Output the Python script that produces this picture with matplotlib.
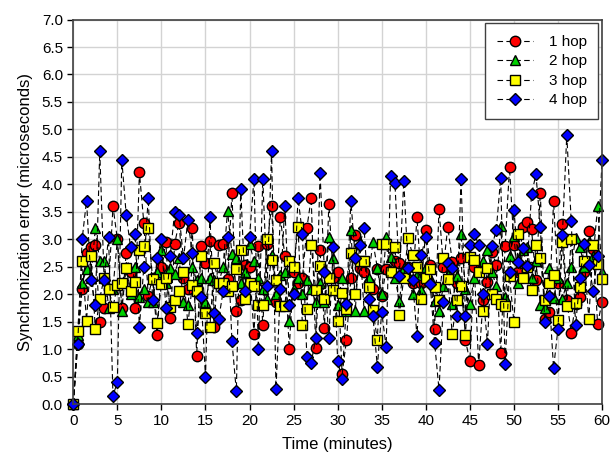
import numpy as np
import matplotlib
matplotlib.use("Agg")
import matplotlib.pyplot as plt

plt.rcParams['font.family'] = ['Liberation Sans', 'DejaVu Sans']

# time axis: one sample every half minute
t = np.arange(0, 60.5, 0.5)

# synchronization error (microseconds)
hop1 = [0, 1.1, 2.1, 2.75, 2.85, 2.9, 1.5, 1.75, 2.1, 3.6,
        3.0, 1.75, 2.75, 2.4, 1.75, 4.22, 3.3, 1.97, 2.3, 1.26,
        2.5, 2.95, 1.56, 2.92, 3.3, 2.3, 2.1, 3.2, 0.87, 2.87,
        2.56, 2.96, 1.4, 2.9, 2.92, 2.27, 3.84, 1.7, 1.9, 2.54,
        2.5, 1.28, 2.87, 1.43, 2.92, 3.61, 1.85, 3.4, 2.7, 1.0,
        2.4, 2.2, 2.3, 3.2, 3.76, 1.02, 2.8, 1.38, 3.65, 2.3,
        2.4, 0.55, 1.16, 2.3, 3.08, 2.47, 2.4, 2.2, 2.1, 2.45,
        1.97, 2.45, 2.4, 2.6, 2.57, 2.38, 2.5, 2.2, 3.4, 2.2,
        3.16, 2.53, 1.37, 3.55, 2.5, 3.23, 2.59, 2.2, 2.66, 1.16,
        0.78, 2.5, 0.71, 1.89, 2.22, 2.77, 2.54, 0.92, 2.87, 4.31,
        2.9, 2.4, 3.22, 3.32, 3.18, 2.26, 3.85, 1.55, 1.68, 3.7,
        2.2, 3.28, 1.89, 1.3, 1.83, 1.94, 2.4, 3.15, 2.83, 1.46,
        1.85]
hop2 = [0, 1.25, 2.2, 2.45, 2.3, 3.2, 2.6, 2.6, 1.75, 2.1,
        3.0, 1.7, 2.5, 2.0, 2.5, 1.95, 2.1, 1.85, 1.85, 2.4,
        2.8, 2.2, 2.48, 2.37, 2.65, 1.85, 1.8, 2.5, 2.25, 2.3,
        1.85, 2.3, 2.25, 2.2, 2.5, 3.52, 2.74, 2.66, 2.2, 2.4,
        2.92, 2.6, 2.3, 2.1, 1.92, 2.72, 2.0, 2.35, 2.4, 1.51,
        2.1, 2.3, 2.0, 2.25, 2.1, 1.85, 2.2, 1.85, 3.05, 2.66,
        1.8, 2.3, 1.7, 3.17, 1.7, 2.95, 1.7, 2.3, 2.95, 2.48,
        2.0, 3.04, 2.68, 2.3, 1.88, 2.48, 2.35, 2.0, 2.35, 2.08,
        2.5, 2.3, 1.88, 1.7, 2.15, 2.35, 1.82, 2.33, 3.1, 2.1,
        1.82, 2.3, 2.45, 2.6, 2.8, 2.4, 2.15, 3.25, 1.95, 2.7,
        3.06, 2.2, 2.8, 2.85, 2.3, 2.6, 1.8, 1.75, 2.48, 1.93,
        2.3, 1.92, 2.2, 2.5, 3.02, 2.85, 2.5, 2.95, 2.7, 3.6,
        2.4]
hop3 = [0, 1.33, 2.6, 1.52, 2.7, 1.36, 1.92, 2.3, 2.1, 1.76,
        2.17, 2.2, 2.48, 2.06, 2.22, 2.8, 2.87, 3.2, 2.28, 1.48,
        2.18, 2.3, 1.77, 1.9, 2.05, 2.4, 1.45, 2.17, 2.05, 2.69,
        1.66, 1.41, 2.56, 2.2, 2.2, 2.05, 2.15, 2.46, 2.8, 1.92,
        2.2, 2.15, 1.8, 1.8, 3.0, 2.63, 2.25, 1.78, 1.78, 2.6,
        2.5, 3.22, 1.43, 1.73, 2.89, 2.08, 2.52, 1.92, 2.3, 2.08,
        1.51, 2.03, 1.73, 2.75, 2.0, 2.6, 2.6, 2.13, 1.71, 1.17,
        2.92, 2.92, 2.4, 2.85, 1.63, 2.3, 3.02, 2.72, 2.5, 1.92,
        2.3, 2.45, 2.13, 1.9, 2.65, 2.28, 1.27, 1.9, 2.15, 1.25,
        2.67, 2.63, 2.4, 1.7, 2.47, 2.0, 1.92, 1.83, 1.78, 2.33,
        1.49, 3.1, 2.3, 2.5, 2.08, 2.9, 2.65, 1.9, 2.2, 2.35,
        1.53, 2.95, 1.78, 3.0, 1.84, 2.13, 2.6, 1.55, 2.9, 2.55,
        2.28]
hop4 = [0, 1.1, 3.0, 3.7, 2.25, 1.8, 4.6, 2.25, 3.05, 0.15,
        0.4, 4.45, 3.45, 2.85, 3.1, 1.4, 2.5, 3.75, 1.9, 2.65,
        3.0, 1.75, 2.7, 3.5, 3.45, 2.65, 3.35, 2.75, 1.3, 1.95,
        0.5, 3.4, 1.65, 1.55, 2.05, 3.05, 1.15, 0.23, 3.92, 2.05,
        3.05, 4.1, 1.0, 4.1, 2.15, 4.6, 0.28, 2.1, 3.6, 1.8,
        2.0, 3.75, 3.1, 0.85, 0.75, 1.2, 4.2, 2.4, 1.2, 2.85,
        0.78, 0.46, 1.82, 3.7, 2.65, 2.9, 3.2, 1.92, 1.6, 0.68,
        1.68, 1.03, 4.15, 4.02, 2.33, 4.06, 2.47, 2.26, 1.23, 2.72,
        3.04, 2.19, 1.12, 0.26, 1.85, 2.56, 2.48, 1.6, 4.1, 1.6,
        2.9, 3.1, 2.9, 2.0, 1.1, 2.87, 3.17, 4.12, 0.73, 2.41,
        3.53, 2.59, 2.84, 2.51, 3.82, 4.18, 3.23, 1.5, 1.97, 0.65,
        1.37, 3.08, 4.9, 3.34, 1.43, 2.3, 2.92, 2.54, 2.06, 2.69,
        4.44]

series = [
    (hop1, "1 hop", "o", "#ff0000", 7.5),
    (hop2, "2 hop", "^", "#00d000", 7.5),
    (hop3, "3 hop", "s", "#ffff00", 7),
    (hop4, "4 hop", "D", "#0000ff", 6.5),
]

fig = plt.figure(figsize=(6.12, 4.66), dpi=100)
ax = fig.add_axes([0.1198, 0.133, 0.8639, 0.825])

for ys, name, mk, col, ms in series:
    ax.plot(t, ys, linestyle=(0, (5, 3)), color="black", lw=0.8,
            marker=mk, markersize=ms, markerfacecolor=col,
            markeredgecolor="black", markeredgewidth=1.0,
            label=name, clip_on=False)

ax.set_xlim(0, 60)
ax.set_ylim(0, 7)
ax.set_xticks(np.arange(0, 61, 5))
ax.set_yticks(np.arange(0, 7.01, 0.5))
ax.set_yticklabels([f"{v:.1f}" for v in np.arange(0, 7.01, 0.5)])
ax.grid(True, color="#d3d3d3", lw=1.0)
ax.set_axisbelow(True)
ax.tick_params(direction="out", length=4, width=1, labelsize=11, colors="black")
for sp in ax.spines.values():
    sp.set_color("#404040")
    sp.set_linewidth(1.2)

ax.set_xlabel("Time (minutes)", fontsize=12, labelpad=6)
ax.set_ylabel("Synchronization error (microseconds)", fontsize=12, labelpad=6)

leg = ax.legend(loc="upper right", fontsize=11, frameon=True, fancybox=False,
                edgecolor="#404040", framealpha=1, borderpad=0.75,
                labelspacing=0.36, handlelength=2.35, handletextpad=1.05,
                borderaxespad=0.25)
leg.get_frame().set_linewidth(1.0)

fig.savefig("out.png", dpi=100)
